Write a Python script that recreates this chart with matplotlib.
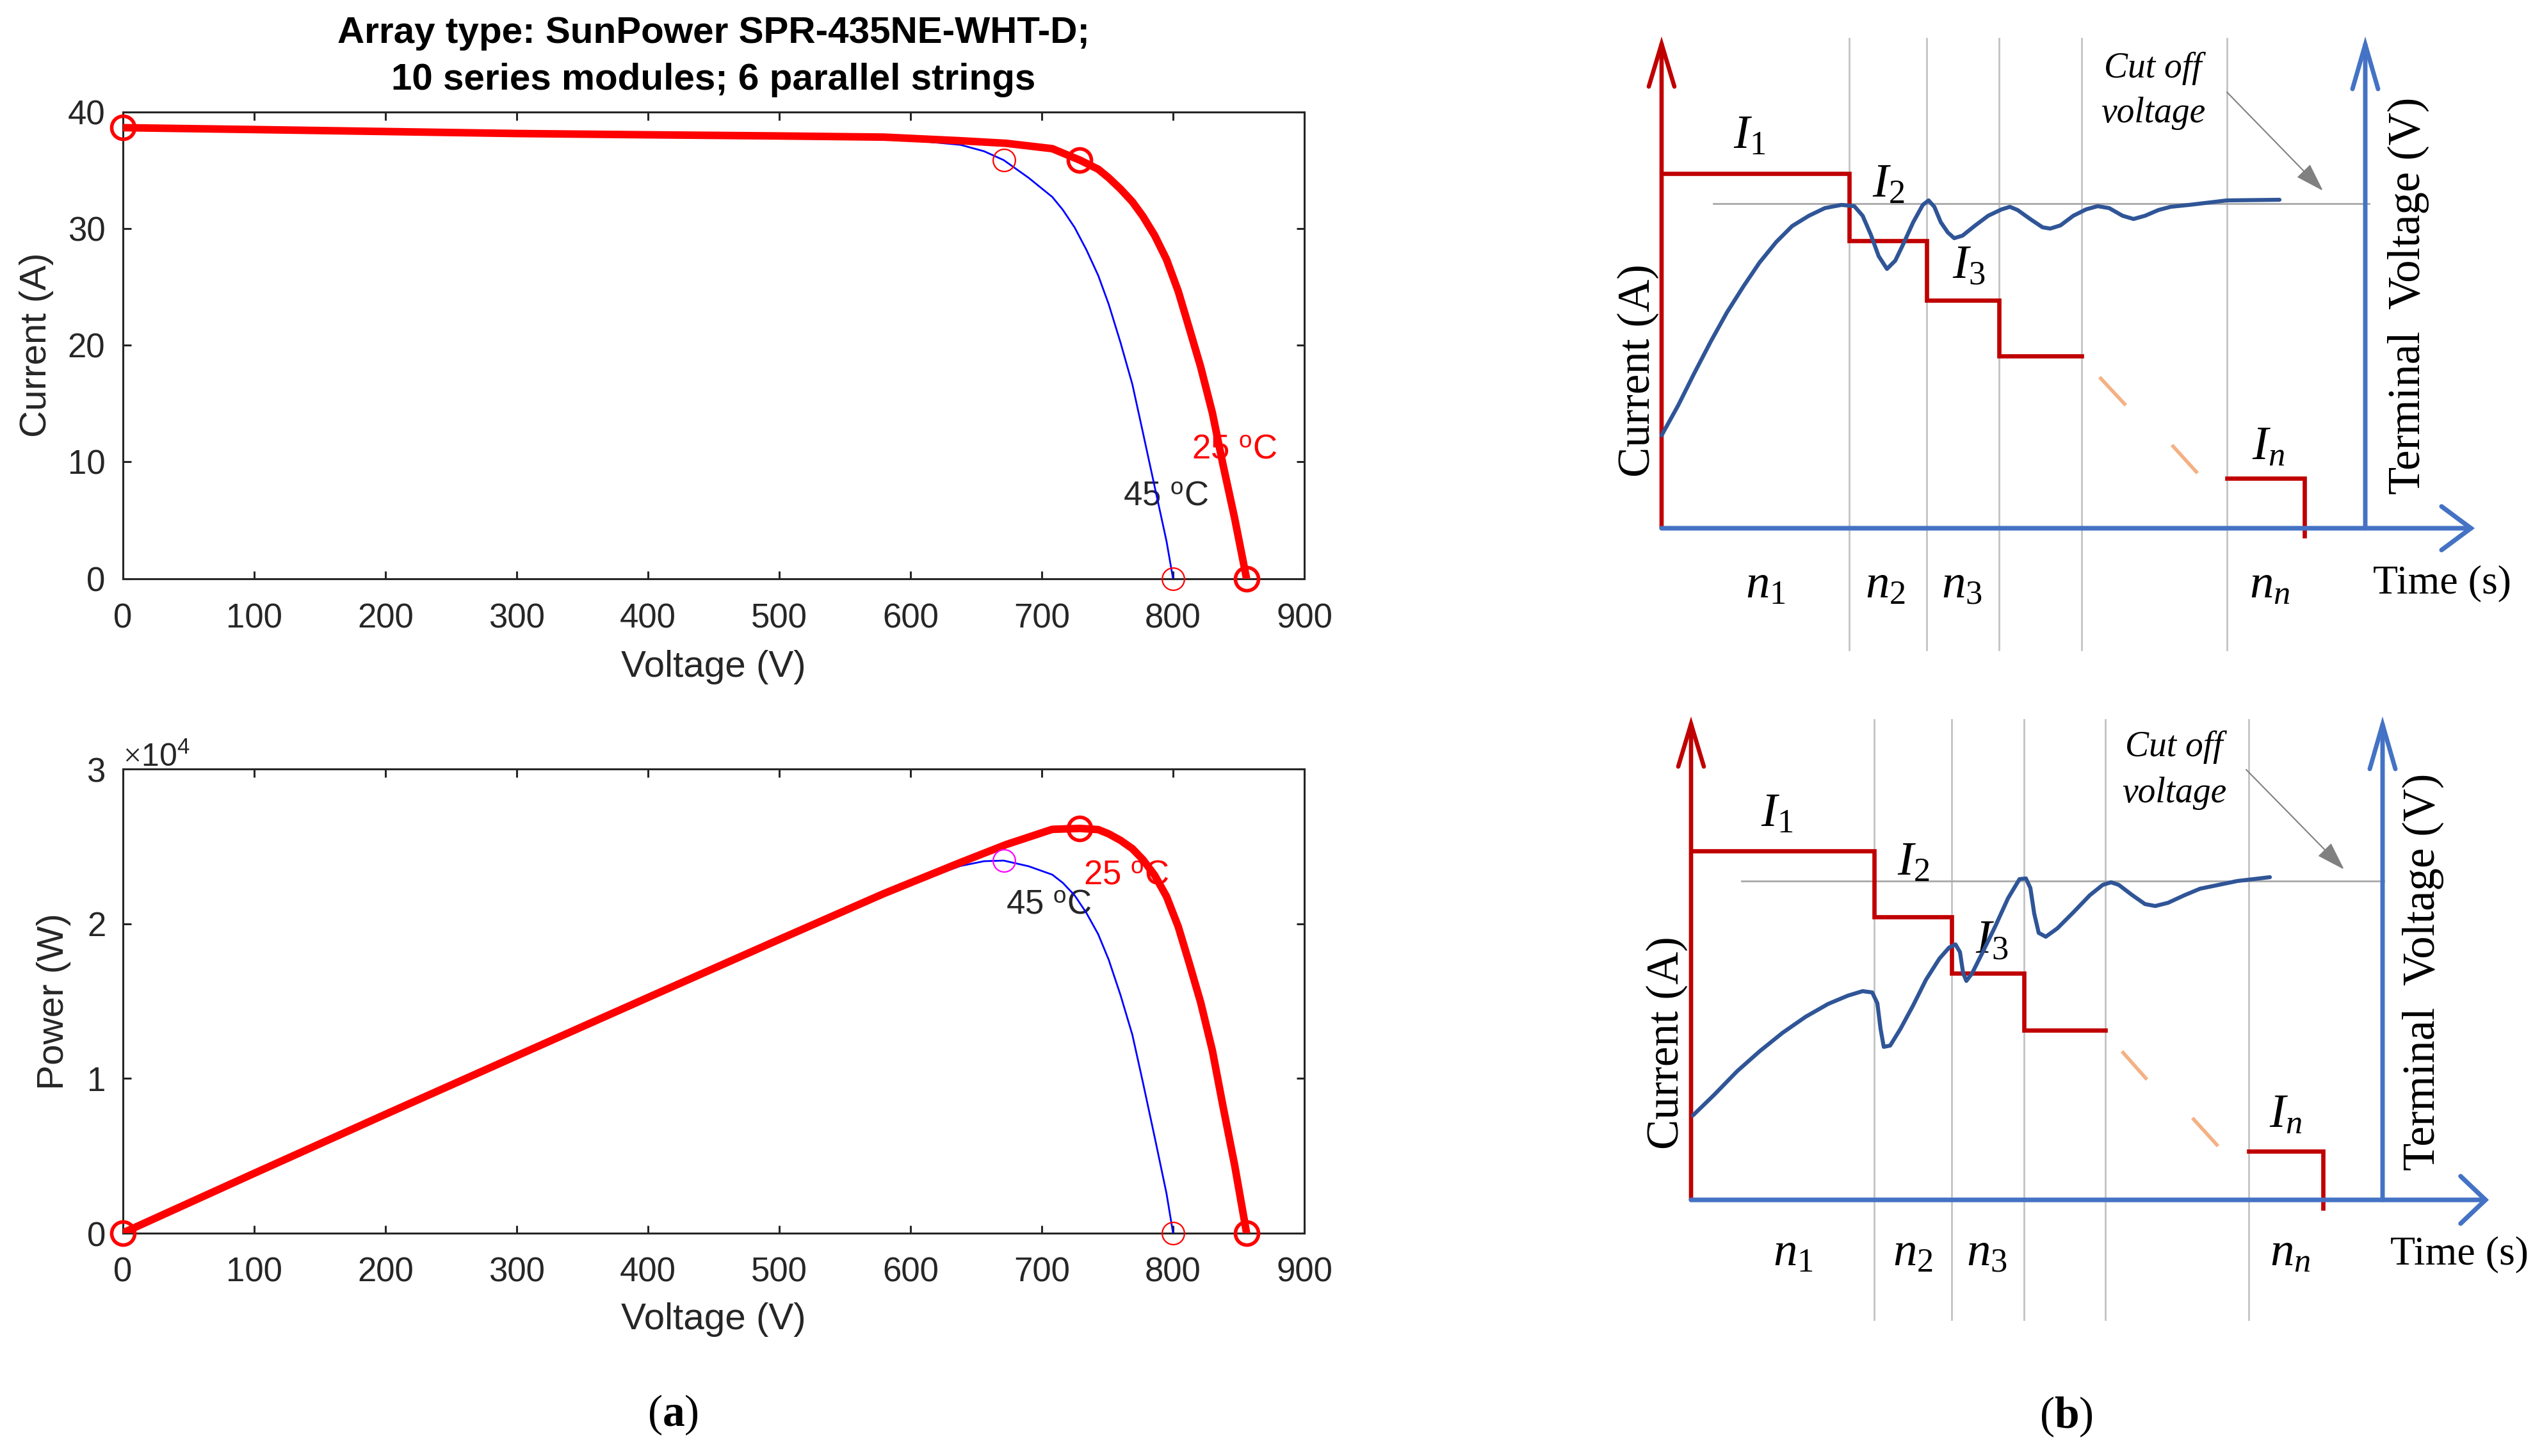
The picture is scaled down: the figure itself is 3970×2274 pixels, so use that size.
import numpy as np
import matplotlib
matplotlib.use('Agg')
import matplotlib.pyplot as plt

plt.rcParams['font.family'] = ['Liberation Sans', 'DejaVu Sans']
plt.rcParams['mathtext.fontset'] = 'custom'
plt.rcParams['mathtext.rm'] = 'Liberation Serif'
plt.rcParams['mathtext.it'] = 'Liberation Serif:italic'
plt.rcParams['mathtext.bf'] = 'Liberation Serif:bold'
plt.rcParams['mathtext.sf'] = 'Liberation Sans'

# ---------------- data: panel (a) ----------------
V25 = [0, 100, 200, 300, 400, 500, 580, 638, 673, 708, 729, 743, 751, 760, 769, 777,
       786, 795, 804, 812, 821, 830, 838, 847, 856]
I25 = [38.66, 38.5, 38.33, 38.16, 38.05, 37.95, 37.85, 37.54, 37.32, 36.86, 35.88,
       35.10, 34.36, 33.40, 32.31, 31.07, 29.42, 27.37, 24.62, 21.60, 18.17, 14.19,
       9.80, 5.14, 0]
V45 = [0, 100, 200, 300, 400, 500, 580, 638, 656, 671, 690, 708, 716, 725, 734, 743,
       751, 760, 769, 777, 786, 795, 800]
I45 = [38.66, 38.5, 38.33, 38.16, 38.05, 37.95, 37.8, 37.19, 36.64, 35.88, 34.36,
       32.72, 31.62, 30.11, 28.19, 25.99, 23.52, 20.23, 16.66, 12.55, 7.88, 3.22, 0]
V_mpp25, I_mpp25 = 729, 35.88
V_mpp45, I_mpp45 = 671, 35.88
V_oc25, V_oc45 = 856, 800
I_sc25 = 38.66
P25 = np.array(V25) * np.array(I25)
P45 = np.array(V45) * np.array(I45)

title_lines = ["Array type: SunPower SPR-435NE-WHT-D;", "10 series modules; 6 parallel strings"]
volt_ticks = list(range(0, 901, 100))
curr_ticks = [0, 10, 20, 30, 40]
pow_ticks = [0, 1e4, 2e4, 3e4]

# ---------------- data: panel (b) ----------------
# top diagram
tb1 = [2.93, 4.14, 5.27, 6.56, 8.83]          # interval boundaries
lev1 = [5.54, 4.49, 3.56, 2.69, 0.78]         # current levels I1, I2, I3, I4, In
tend1, drop1 = 10.04, -0.12
cut1, cutx1 = 5.07, (0.81, 11.05)
vt1 = [0.00, 0.26, 0.51, 0.77, 1.02, 1.28, 1.53, 1.79, 2.04, 2.30, 2.55, 2.81, 3.01,
       3.14, 3.27, 3.39, 3.52, 3.65, 3.78, 3.93, 4.08, 4.17, 4.26, 4.36, 4.47, 4.57,
       4.70, 4.90, 5.10, 5.31, 5.44, 5.56, 5.77, 5.95, 6.07, 6.23, 6.43, 6.63, 6.81,
       6.99, 7.20, 7.37, 7.55, 7.76, 7.95, 8.24, 8.83, 9.65]
vv1 = [1.45, 1.92, 2.42, 2.92, 3.37, 3.78, 4.15, 4.47, 4.72, 4.88, 5.00, 5.05, 5.03,
       4.88, 4.58, 4.25, 4.05, 4.18, 4.45, 4.78, 5.05, 5.12, 5.02, 4.78, 4.62, 4.53,
       4.57, 4.73, 4.88, 4.98, 5.02, 4.97, 4.82, 4.70, 4.68, 4.73, 4.88, 4.98, 5.03,
       5.00, 4.88, 4.83, 4.88, 4.97, 5.02, 5.05, 5.12, 5.13]
dash_t1 = [[6.84, 7.25], [7.97, 8.37]]
dash_v1 = [[2.36, 1.92], [1.30, 0.86]]

# bottom diagram
tb2 = [2.86, 4.07, 5.20, 6.47, 8.71]
lev2 = [5.45, 4.42, 3.54, 2.65, 0.76]
tend2, drop2 = 9.87, -0.13
cut2, cutx2 = 4.98, (0.79, 10.82)
vt2 = [0.03, 0.36, 0.72, 1.07, 1.43, 1.79, 2.14, 2.45, 2.68, 2.83, 2.91, 2.96, 3.01,
       3.11, 3.27, 3.47, 3.67, 3.88, 4.03, 4.13, 4.20, 4.25, 4.30, 4.39, 4.54, 4.75,
       4.95, 5.13, 5.23, 5.30, 5.36, 5.43, 5.54, 5.72, 5.97, 6.23, 6.43, 6.56, 6.68,
       6.89, 7.09, 7.25, 7.45, 7.71, 7.95, 8.53, 9.04]
vv2 = [1.32, 1.64, 2.01, 2.32, 2.61, 2.86, 3.06, 3.19, 3.26, 3.24, 3.07, 2.67, 2.39,
       2.41, 2.67, 3.04, 3.44, 3.77, 3.94, 3.99, 3.87, 3.54, 3.42, 3.54, 3.84, 4.27,
       4.71, 5.01, 5.02, 4.87, 4.47, 4.17, 4.11, 4.24, 4.49, 4.76, 4.92, 4.96, 4.92,
       4.76, 4.62, 4.59, 4.64, 4.76, 4.86, 4.98, 5.04]
dash_t2 = [[6.73, 7.12], [7.83, 8.23]]
dash_v2 = [[2.32, 1.88], [1.28, 0.84]]

# ---------------- figure ----------------
W, H = 3970, 2274
fig = plt.figure(figsize=(W / 100, H / 100), dpi=100)


def px_axes(l, t, r, b):
    return fig.add_axes([l / W, 1 - b / H, (r - l) / W, (b - t) / H])


TXT = '#262626'
RED = '#ff0000'
BLUE = '#0000ff'


def style(ax):
    for s in ax.spines.values():
        s.set_linewidth(2.2)
        s.set_color(TXT)
    ax.tick_params(direction='in', length=9, width=2.2, top=True, right=True,
                   labelsize=38, colors=TXT)
    ax.tick_params(axis='x', pad=27)
    ax.tick_params(axis='y', pad=20)
    ax.set_xlim(0, 900)
    ax.set_xticks(volt_ticks)


ax1 = px_axes(192, 175, 2037, 903.6)
ax2 = px_axes(192, 1201, 2037, 1925.5)
for ax in (ax1, ax2):
    style(ax)

# --- I-V
ax1.set_ylim(0, 40)
ax1.set_yticks(curr_ticks)
ax1.plot(V45, I45, color=BLUE, lw=2, zorder=3)
ax1.plot(V25, I25, color=RED, lw=8.5, zorder=4, solid_capstyle='round', solid_joinstyle='round')
ax1.plot([0, V_mpp25, V_oc25], [I_sc25, I_mpp25, 0], 'o', ms=26, mfc='none', mec=RED,
         mew=4, clip_on=False, zorder=6)
ax1.plot([V_mpp45, V_oc45], [I_mpp45, 0], 'o', ms=25, mfc='none', mec=RED, mew=1.6,
         clip_on=False, zorder=6)
ax1.text(814, 11.07, '25 $^{\\mathsf{o}}$C', color=RED, fontsize=38, va='center', zorder=2)
ax1.text(761.8, 7.10, '45 $^{\\mathsf{o}}$C', color=TXT, fontsize=38, va='center', zorder=2)
ax1.text(0.5, (903.6 - 1042) / 728.6, 'Voltage (V)', transform=ax1.transAxes, ha='center',
         va='center', fontsize=42, color=TXT)
ax1.text(-0.0732, 0.501, 'Current (A)', transform=ax1.transAxes, ha='center', va='center',
         rotation=90, fontsize=42, color=TXT)
ax1.text(0.5, 1.148, title_lines[0], transform=ax1.transAxes, ha='center', va='baseline',
         fontsize=42, fontweight='bold', color='black')
ax1.text(0.5, 1.048, title_lines[1], transform=ax1.transAxes, ha='center', va='baseline',
         fontsize=42, fontweight='bold', color='black')

# --- P-V
ax2.set_ylim(0, 3e4)
ax2.set_yticks(pow_ticks)
ax2.ticklabel_format(axis='y', style='sci', scilimits=(4, 4), useMathText=True)
ax2.yaxis.get_offset_text().set_fontsize(36)
ax2.yaxis.get_offset_text().set_color(TXT)
ax2.plot(V45, P45, color=BLUE, lw=2, zorder=3)
ax2.plot(V25, P25, color=RED, lw=8.5, zorder=4, solid_capstyle='round', solid_joinstyle='round')
ax2.plot([0, V_mpp25, V_oc25], [0, V_mpp25 * I_mpp25, 0], 'o', ms=26, mfc='none', mec=RED,
         mew=4, clip_on=False, zorder=6)
ax2.plot([V_mpp45], [V_mpp45 * I_mpp45], 'o', ms=25, mfc='none', mec='#ff00ff', mew=1.6,
         clip_on=False, zorder=6)
ax2.plot([V_oc45], [0], 'o', ms=25, mfc='none', mec=RED, mew=1.6, clip_on=False, zorder=6)
ax2.text(731.8, 23135, '25 $^{\\mathsf{o}}$C', color=RED, fontsize=38, va='center', zorder=2)
ax2.text(672.7, 21230, '45 $^{\\mathsf{o}}$C', color=TXT, fontsize=38, va='center', zorder=2)
ax2.text(0.5, -0.187, 'Voltage (V)', transform=ax2.transAxes, ha='center', va='center',
         fontsize=42, color=TXT)
ax2.text(-0.0585, 0.499, 'Power (W)', transform=ax2.transAxes, ha='center', va='center',
         rotation=90, fontsize=42, color=TXT)

# ---------------- panel (b) diagrams ----------------
DRED = '#c00000'
ABLUE = '#4472c4'
CBLUE = '#2f5597'
GRAY = '#c3c3c3'
CGRAY = '#a8a8a8'
ORANGE = '#f4b183'
SERIF = ['Liberation Serif', 'DejaVu Serif']


def arrow(ax, start, end, color, lw, hl, hw, style='->', z=4):
    ax.annotate('', xy=end, xytext=start,
                arrowprops=dict(arrowstyle=f'{style},head_length={hl},head_width={hw}',
                                color=color, lw=lw, shrinkA=0, shrinkB=0,
                                mutation_scale=10, joinstyle='miter'),
                zorder=z, annotation_clip=False)


def diagram(ax, tb, lev, tend, drop, cut, cutx, vt, vv, dt, dv, spec):
    ax.set_axis_off()
    for t in tb:
        ax.plot([t, t], spec['gray_y'], color=GRAY, lw=2, zorder=1)
    ax.plot(cutx, [cut, cut], color=CGRAY, lw=2, zorder=1)
    ax.step(np.r_[0, tb[:4]], np.r_[lev[:4], lev[3]], where='post', color=DRED, lw=4.8,
            zorder=3, solid_joinstyle='miter')
    ax.plot([tb[4], tend, tend], [lev[4], lev[4], drop], color=DRED, lw=4.8, zorder=3,
            solid_joinstyle='miter')
    for x, y in zip(dt, dv):
        ax.plot(x, y, color=ORANGE, lw=4, zorder=3, solid_capstyle='butt')
    arrow(ax, (0, 0), (0, spec['ytop']), DRED, 4.8, 4.8, 1.44)
    arrow(ax, (0, 0), (spec['xtip'], 0), ABLUE, 5.2, spec['xh'][0], spec['xh'][1])
    arrow(ax, (spec['vx'], 0), (spec['vx'], spec['ytop']), ABLUE, 5.0, 5.0, 1.44)
    ax.plot(vt, vv, color=CBLUE, lw=4.5, zorder=5, solid_capstyle='round',
            solid_joinstyle='round')
    arrow(ax, spec['arr'][0], spec['arr'][1], '#808080', 1.5, 2.8, 0.9, style='-|>', z=2)
    ax.text(*spec['cut_txt1'], 'Cut off', family=SERIF, style='italic', fontsize=40,
            ha='center', va='center')
    ax.text(*spec['cut_txt2'], 'voltage', family=SERIF, style='italic', fontsize=40,
            ha='center', va='center')
    for lbl, pos in zip(['$I_1$', '$I_2$', '$I_3$', '$I_n$'], spec['I_pos']):
        ax.text(*pos, lbl, fontsize=54, ha='center', va='center')
    for lbl, x in zip(['$n_1$', '$n_2$', '$n_3$', '$n_n$'], spec['n_x']):
        ax.text(x, spec['n_y'], lbl, fontsize=54, ha='center', va='center')
    ax.text(*spec['time'], 'Time (s)', family=SERIF, fontsize=46, ha='center', va='center')
    ax.text(*spec['curr'], 'Current (A)', family=SERIF, fontsize=51, ha='center',
            va='center', rotation=90)
    ax.text(*spec['term'], 'Terminal  Voltage (V)', family=SERIF, fontsize=51, ha='center',
            va='center', rotation=90)


axb1 = px_axes(2450, 0, 3970, 1050)
axb1.set_xlim(-1.45, 13.75)
axb1.set_ylim(-2.25, 8.25)
diagram(axb1, tb1, lev1, tend1, drop1, cut1, cutx1, vt1, vv1, dash_t1, dash_v1, dict(
    gray_y=(-1.9, 7.65), ytop=7.68, xtip=12.70, xh=(3.3, 2.45), vx=10.99,
    arr=((8.83, 6.81), (10.33, 5.27)), cut_txt1=(7.67, 7.18), cut_txt2=(7.68, 6.48),
    I_pos=[(1.37, 6.13), (3.54, 5.37), (4.80, 4.10), (9.48, 1.27)],
    n_x=[1.62, 3.49, 4.69, 9.50], n_y=-0.89, time=(12.19, -0.86),
    curr=(-0.37, 2.46), term=(11.66, 3.63)))

axb2 = px_axes(2450, 1050, 3970, 2274)
axb2.set_xlim(-1.91, 13.29)
axb2.set_ylim(-4.00, 8.24)
diagram(axb2, tb2, lev2, tend2, drop2, cut2, cutx2, vt2, vv2, dash_t2, dash_v2, dict(
    gray_y=(-1.87, 7.50), ytop=7.55, xtip=12.46, xh=(2.8, 2.66), vx=10.80,
    arr=((8.67, 6.72), (10.20, 5.16)), cut_txt1=(7.54, 7.07), cut_txt2=(7.55, 6.35),
    I_pos=[(1.34, 6.03), (3.47, 5.27), (4.70, 4.05), (9.29, 1.33)],
    n_x=[1.59, 3.46, 4.62, 9.36], n_y=-0.83, time=(12.0, -0.85),
    curr=(-0.38, 2.45), term=(11.43, 3.56)))

fig.text(1051 / W, 1 - 2210 / H, '($\\mathbf{a}$)', family=SERIF, fontsize=50,
         ha='center', va='center')
fig.text(3227 / W, 1 - 2213 / H, '($\\mathbf{b}$)', family=SERIF, fontsize=50,
         ha='center', va='center')

fig.savefig('out.png', dpi=100, facecolor='white')
